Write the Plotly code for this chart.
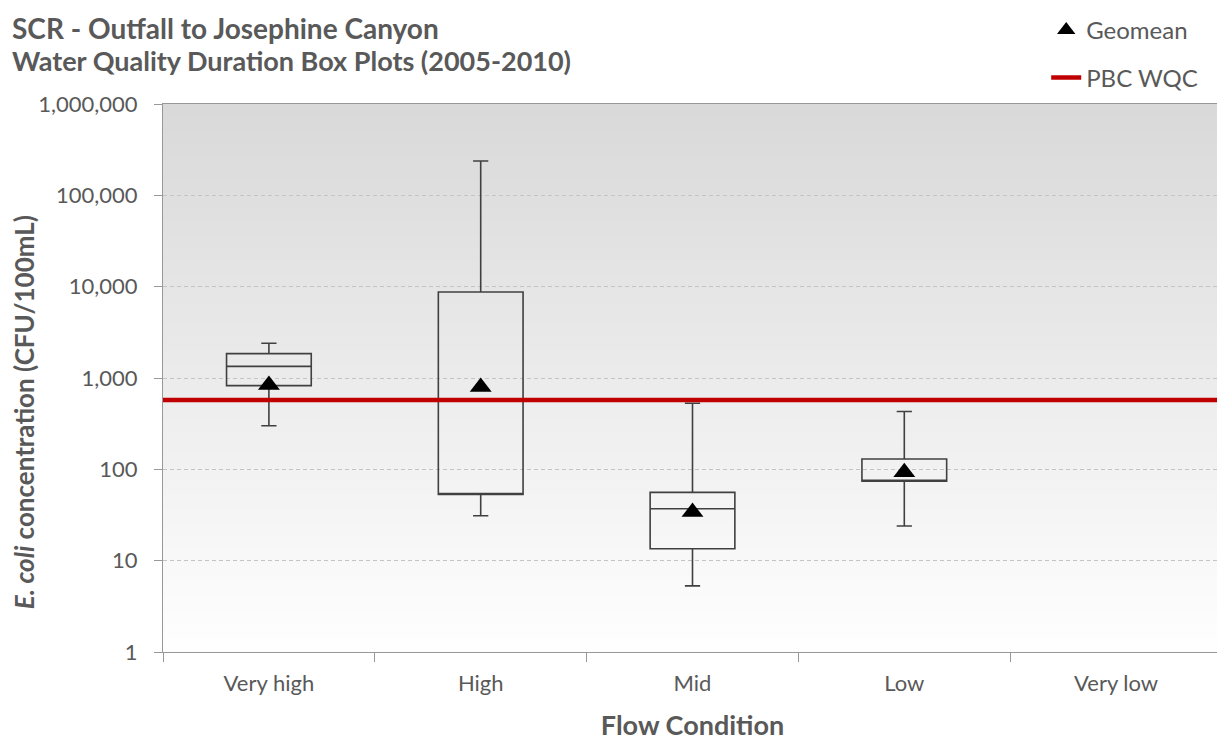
import plotly.graph_objects as go

# flow condition categories (Very low has no data)
categories = ["Very high", "High", "Mid", "Low", "Very low"]

box_cats = ["Very high", "High", "Mid", "Low"]
whisker_low = [300, 31, 5.3, 24]
q1 = [825, 53, 13.5, 74]
median = [1340, 53, 37, 75]
q3 = [1850, 8750, 56, 130]
whisker_high = [2400, 238000, 530, 430]

geomean = [840, 795, 34, 93]

wqc = 575

tick_vals = [1, 10, 100, 1000, 10000, 100000, 1000000]
tick_text = ["1", "10", "100", "1,000", "10,000", "100,000", "1,000,000"]

font_family = "Lato, 'Open Sans', sans-serif"
grey_text = "#595959"
axis_grey = "#989898"

fig = go.Figure()

# gradient background (grey at top -> white at bottom)
n_bands = 80
for i in range(n_bands):
    t = i / n_bands
    c = int(217 + (255 - 217) * (1 - t - 0.5 / n_bands))
    fig.add_shape(type="rect", xref="x domain", yref="y domain",
                  x0=0, x1=1, y0=t, y1=t + 1.0 / n_bands + 0.002,
                  fillcolor="rgb({0},{0},{0})".format(c),
                  line_width=0, layer="below")

fig.add_trace(go.Box(x=box_cats,
                     q1=q1,
                     median=median,
                     q3=q3,
                     lowerfence=whisker_low,
                     upperfence=whisker_high,
                     fillcolor="rgba(0,0,0,0)",
                     line=dict(color="#404040", width=1.6),
                     width=0.4,
                     whiskerwidth=0.18,
                     boxpoints=False,
                     hoverinfo="skip",
                     showlegend=False))

fig.add_trace(go.Scatter(x=box_cats,
                         y=geomean,
                         mode="markers",
                         marker=dict(symbol="triangle-up", color="black", size=19),
                         name="Geomean",
                         legend="legend"))

fig.add_shape(type="line", xref="x domain", yref="y",
              x0=0, x1=1, y0=wqc, y1=wqc,
              line=dict(color="#C00000", width=4.5),
              name="PBC WQC", showlegend=True, legend="legend2")

fig.update_xaxes(
    type="category",
    categoryorder="array",
    categoryarray=categories,
    range=[-0.5, 4.5],
    showline=True,
    mirror=True,
    linecolor=axis_grey,
    linewidth=1,
    ticks="outside",
    tickson="boundaries",
    ticklen=9,
    tickcolor=axis_grey,
    ticklabelstandoff=12,
    tickfont=dict(size=22, color=grey_text, family=font_family),
    title_text="<b>Flow Condition</b>",
    title_font=dict(size=27, color=grey_text, family=font_family),
    title_standoff=20,
    showgrid=False,
    automargin=False,
)
fig.update_yaxes(
    type="log",
    range=[0, 6],
    tickvals=tick_vals,
    ticktext=tick_text,
    showline=True,
    mirror=True,
    linecolor=axis_grey,
    linewidth=1,
    ticks="outside",
    ticklen=8,
    tickcolor=axis_grey,
    ticklabelstandoff=12,
    tickfont=dict(size=22, color=grey_text, family=font_family),
    showgrid=True,
    gridcolor="#c4c4c4",
    griddash="4px,3px",
    gridwidth=1,
    zeroline=False,
    automargin=False,
)
legend_font = dict(size=24, color=grey_text, family=font_family)
fig.update_layout(
    width=1217,
    height=734,
    margin=dict(l=155, r=3, t=96, b=90),
    paper_bgcolor="white",
    plot_bgcolor="white",
    font=dict(family=font_family, color=grey_text),
    legend=dict(
        x=0.834,
        y=1.0,
        yref="container",
        xanchor="left",
        yanchor="top",
        font=legend_font,
        bgcolor="rgba(0,0,0,0)",
    ),
    legend2=dict(
        x=0.834,
        y=(734 - 70) / 734.0,
        yref="container",
        xanchor="left",
        yanchor="middle",
        font=legend_font,
        bgcolor="rgba(0,0,0,0)",
    ),
    annotations=[
        dict(text="<b>SCR - Outfall to Josephine Canyon</b>", xref="paper", yref="paper",
             x=-0.1445, y=1.139, xanchor="left", yanchor="middle", showarrow=False,
             font=dict(size=28, color=grey_text, family=font_family)),
        dict(text="<b>Water Quality Duration Box Plots (2005-2010)</b>", xref="paper", yref="paper",
             x=-0.1445, y=1.079, xanchor="left", yanchor="middle", showarrow=False,
             font=dict(size=27, color=grey_text, family=font_family)),
        dict(text="<b><i>E. coli</i> concentration (CFU/100mL)</b>", xref="paper", yref="paper",
             x=-0.131, y=0.438, xanchor="center", yanchor="middle", showarrow=False,
             textangle=-90,
             font=dict(size=26, color=grey_text, family=font_family)),
    ],
)

fig.write_html("out.html")
